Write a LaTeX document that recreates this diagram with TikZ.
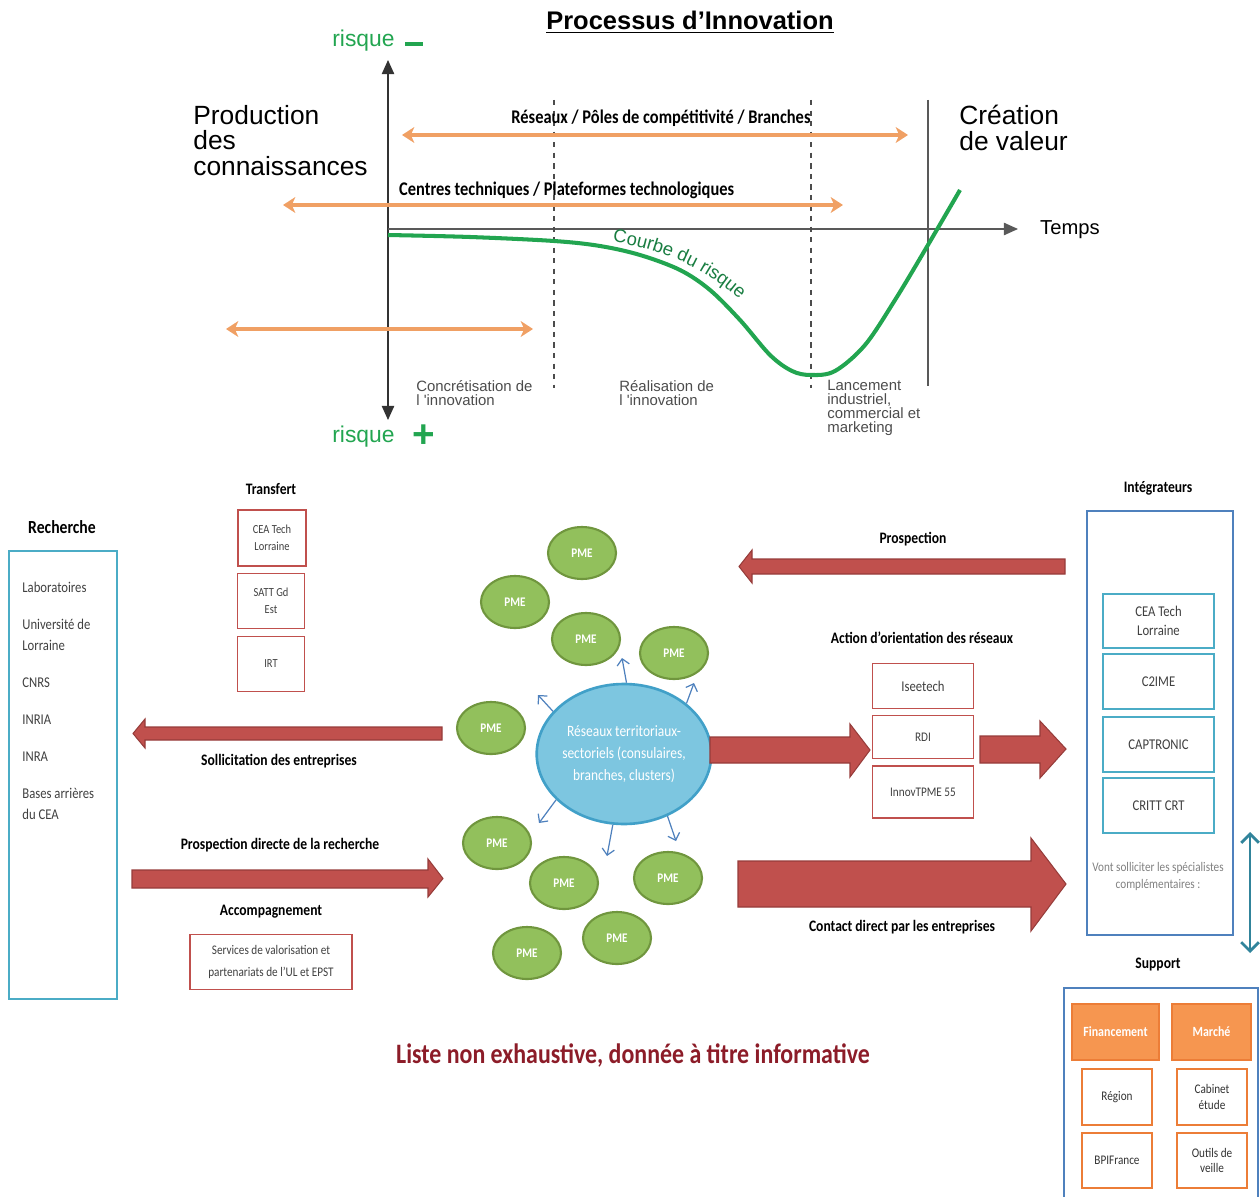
\documentclass[tikz,border=0pt]{standalone}
\usepackage{fontspec}
\setmainfont{Carlito}[FakeStretch=0.85]
\newfontfamily\arialfont{Liberation Sans}
\usetikzlibrary{arrows.meta,shapes.geometric,decorations.text}

\definecolor{riskgreen}{RGB}{34,165,80}
\definecolor{riskdark}{RGB}{25,125,65}
\definecolor{spanorange}{RGB}{240,160,100}
\definecolor{boxred}{RGB}{192,80,77}
\definecolor{arrowedge}{RGB}{150,60,58}
\definecolor{rescyan}{RGB}{75,172,198}
\definecolor{frameblue}{RGB}{79,129,189}
\definecolor{netfill}{RGB}{125,198,224}
\definecolor{netedge}{RGB}{65,160,200}
\definecolor{pmefill}{RGB}{146,192,92}
\definecolor{pmeedge}{RGB}{112,150,62}
\definecolor{supfill}{RGB}{246,150,80}
\definecolor{supedge}{RGB}{236,125,55}
\definecolor{linkteal}{RGB}{49,132,155}
\definecolor{notered}{RGB}{140,28,40}

\begin{document}
\begin{tikzpicture}[x=0.02cm,y=-0.02cm,
	axisline/.style={draw=black!65,line width=0.8pt},
	phase/.style={draw=black!70,line width=1pt,dash pattern=on 3pt off 3pt},
	spanarrow/.style={draw=spanorange,line width=1.8pt,{Stealth[length=7pt,width=9pt,inset=2pt]}-{Stealth[length=7pt,width=9pt,inset=2pt]}},
	spanlabel/.style={font=\bfseries\fontsize{11}{12}\selectfont},
	bigtext/.style={anchor=north west,align=left,inner sep=0pt,font=\arialfont\fontsize{15}{14.5}\selectfont},
	topgray/.style={anchor=north west,align=left,inner sep=0pt,text=black!70,font=\arialfont\fontsize{8.5}{8}\selectfont},
	risklabel/.style={anchor=base west,inner sep=0pt,text=riskgreen,font=\arialfont\fontsize{13}{14}\selectfont},
	head/.style={font=\bfseries\fontsize{9.1}{11}\selectfont},
	redbox/.style={draw=boxred,line width=1.1pt,fill=white,align=center,inner sep=1pt,text=black!75},
	cyanbox/.style={draw=rescyan,line width=1.5pt,fill=white,align=center,inner sep=1pt,text=black!75,minimum width=22.2mm,minimum height=11mm,font=\fontsize{8.5}{11}\selectfont},
	frame/.style={draw=frameblue,line width=1.3pt},
	supbox/.style={draw=supedge,line width=1.3pt,fill=white,align=center,inner sep=1pt,minimum height=11.2mm,minimum width=14mm,text=black!80,font=\fontsize{7.5}{9}\selectfont},
	suphead/.style={supbox,fill=supfill,text=white,font=\bfseries\fontsize{8}{9}\selectfont},
	pme/.style={ellipse,draw=pmeedge,line width=1.2pt,fill=pmefill,minimum width=13.6mm,minimum height=10.4mm,inner sep=0pt,text=white,font=\bfseries\fontsize{7.5}{9}\selectfont},
	bigarrow/.style={fill=boxred,draw=arrowedge,line width=0.6pt},
	spread/.style={draw=frameblue,line width=0.7pt,-{Straight Barb[length=3.5pt,width=7pt]}},
	linkarrow/.style={draw=linkteal,line width=1.6pt,{Straight Barb[length=5pt,width=10pt]}-{Straight Barb[length=5pt,width=10pt]}}]
	\useasboundingbox (0,0) rectangle (1260,1196);

	%title
	\node[font=\arialfont\bfseries\fontsize{14.5}{16}\selectfont] (title) at (690,22) {\underline{Processus d’Innovation}};

	%axes
	\coordinate (O) at (388,229);
	\coordinate (yTop) at (388,60);
	\coordinate (yBot) at (388,420);
	\coordinate (xEnd) at (1018,229);
	\draw[axisline,draw=black!80,{Triangle[length=8pt,width=7pt]}-{Triangle[length=8pt,width=7pt]}] (yTop) -- (yBot);
	\draw[axisline,-{Triangle[length=8pt,width=7pt]}] (O) -- (xEnd);
	\node[risklabel] (riskTop) at (332,47) {risque\hspace{6pt}\rule[0.3pt]{10pt}{2.3pt}};
	\node[risklabel] (riskBot) at (332,442) {risque\hspace{10pt}\raisebox{-3pt}{\fontsize{22}{22}\selectfont\bfseries +}};
	\node[anchor=west,font=\arialfont\fontsize{11.5}{13}\selectfont] (temps) at (1034,230) {Temps};

	%phases
	\draw[phase] (554,100) -- (554,388);
	\draw[phase] (811,100) -- (811,388);
	\draw[draw=black!65,line width=1.2pt] (928,100) -- (928,386);

	\node[bigtext] (prod) at (193,105) {Production\\des\\connaissances};
	\node[bigtext] (valeur) at (959,105) {Création\\de valeur};

	%orange spans
	\coordinate (resL) at (402,135);
	\coordinate (resR) at (908,135);
	\coordinate (ctL) at (283,205);
	\coordinate (ctR) at (843,205);
	\coordinate (lowL) at (226,329);
	\coordinate (lowR) at (533,329);
	\draw[spanarrow] (resL) -- (resR);
	\draw[spanarrow] (ctL) -- (ctR);
	\draw[spanarrow] (lowL) -- (lowR);
	\node[spanlabel] (resLabel) at (661,118) {Réseaux / Pôles de compétitivité / Branches};
	\node[spanlabel,anchor=west] (ctLabel) at (393,190) {Centres techniques / Plateformes technologiques};

	%risk curve
	\draw[draw=riskgreen,line width=2.3pt] plot[smooth,tension=0.55] coordinates {(388,235) (470,237) (554,241) (600,246) (640,255) (680,270) (710,290) (740,320) (770,355) (792,371) (811,375) (835,371) (865,345) (895,300) (925,250) (960,190)};
	\path[decorate,decoration={text along path,text align=center,text={|\arialfont\fontsize{10.5}{12}\selectfont\color{riskdark}|Courbe du risque}}] (612,242) .. controls (660,248) and (705,268) .. (740,300);

	\node[topgray] (phase1) at (416,380) {Concrétisation de\\l 'innovation};
	\node[topgray] (phase2) at (619,380) {Réalisation de\\l 'innovation};
	\node[topgray] (phase3) at (827,380) {Lancement\\industriel,\\commercial et\\marketing};

	%recherche
	\node[head,font=\bfseries\fontsize{10.5}{12}\selectfont] (rechHead) at (62,527) {Recherche};
	\draw[draw=rescyan,line width=1.5pt] (9,551) rectangle (117,999);
	\node[anchor=north west,align=left,inner sep=0pt,text=black!75,font=\fontsize{8.5}{12}\selectfont] (rechList) at (22,582) {Laboratoires\\[9pt]Université de\\Lorraine\\[9pt]CNRS\\[9pt]INRIA\\[9pt]INRA\\[9pt]Bases arrières\\du CEA};

	%transfert
	\node[head] (transHead) at (271,489) {Transfert};
	\node[redbox,minimum width=13.6mm,minimum height=11.2mm,font=\fontsize{7}{9.5}\selectfont] (ceaT) at (272,538) {CEA Tech\\Lorraine};
	\node[redbox,minimum width=13.4mm,minimum height=11mm,font=\fontsize{7}{9.5}\selectfont] (satt) at (271,601) {SATT Gd\\Est};
	\node[redbox,minimum width=13.4mm,minimum height=11mm,font=\fontsize{7}{9.5}\selectfont] (irt) at (271,664) {IRT};

	%left arrows
	\filldraw[bigarrow] (442,727) -- (145,727) -- (145,719) -- (133,733.5) -- (145,748) -- (145,740) -- (442,740) -- cycle;
	\node[head] (sollLabel) at (279,761) {Sollicitation des entreprises};
	\node[head] (prosLabel) at (280,845) {Prospection directe de la recherche};
	\filldraw[bigarrow] (132,870) -- (428,870) -- (428,859) -- (443,878.5) -- (428,897) -- (428,888) -- (132,888) -- cycle;
	\node[head] (accLabel) at (271,912) {Accompagnement};
	\node[redbox,minimum width=32.4mm,minimum height=11mm,font=\fontsize{7.5}{12}\selectfont] (valo) at (271,962) {Services de valorisation et\\partenariats de l’UL et EPST};

	%network and PME
	\node[ellipse,draw=netedge,line width=1.5pt,fill=netfill,minimum width=33.6mm,minimum height=28mm,inner sep=0pt,align=center,text=white,font=\fontsize{9}{12.5}\selectfont] (reseau) at (624,754) {Réseaux territoriaux-\\sectoriels (consulaires,\\branches, clusters)};
	\node[pme] (pme1) at (582,553) {PME};
	\node[pme] (pme2) at (515,602) {PME};
	\node[pme] (pme3) at (586,639) {PME};
	\node[pme] (pme4) at (674,653) {PME};
	\node[pme] (pme5) at (491,728) {PME};
	\node[pme] (pme6) at (497,843) {PME};
	\node[pme] (pme7) at (564,883) {PME};
	\node[pme] (pme8) at (668,878) {PME};
	\node[pme] (pme9) at (617,938) {PME};
	\node[pme] (pme10) at (527,953) {PME};

	\coordinate (sp1) at (622,658);
	\coordinate (sp2) at (538,695);
	\coordinate (sp3) at (694,683);
	\coordinate (sp4) at (539,823);
	\coordinate (sp5) at (607,856);
	\coordinate (sp6) at (676,841);
	\draw[spread] (reseau.88) -- (sp1);
	\draw[spread] (reseau.149) -- (sp2);
	\draw[spread] (reseau.39) -- (sp3);
	\draw[spread] (reseau.214) -- (sp4);
	\draw[spread] (reseau.261) -- (sp5);
	\draw[spread] (reseau.305) -- (sp6);

	%right arrows
	\node[head] (prospLabel) at (913,539) {Prospection};
	\filldraw[bigarrow] (1065,559) -- (752,559) -- (752,550) -- (739,566.5) -- (752,583) -- (752,574) -- (1065,574) -- cycle;
	\node[head] (actLabel) at (922,638) {Action d’orientation des réseaux};
	\filldraw[bigarrow] (710,737) -- (850,737) -- (850,724) -- (870,750) -- (850,777) -- (850,763) -- (710,763) -- cycle;
	\filldraw[bigarrow] (980,736) -- (1040,736) -- (1040,721) -- (1066,749) -- (1040,778) -- (1040,763) -- (980,763) -- cycle;
	\node[redbox,minimum width=20.2mm,minimum height=9mm,font=\fontsize{8.5}{10}\selectfont] (isee) at (923,686) {Iseetech};
	\node[redbox,minimum width=20.2mm,minimum height=8.6mm,font=\fontsize{7.5}{9}\selectfont] (rdi) at (923,737) {RDI};
	\node[redbox,minimum width=20.2mm,minimum height=10.4mm,font=\fontsize{7.5}{9}\selectfont] (innov) at (923,792) {InnovTPME 55};
	\filldraw[bigarrow] (738,861) -- (1031,861) -- (1031,838) -- (1066,884) -- (1031,931) -- (1031,907) -- (738,907) -- cycle;
	\node[head] (contLabel) at (902,927) {Contact direct par les entreprises};

	%integrateurs
	\node[head] (integHead) at (1158,488) {Intégrateurs};
	\draw[frame] (1087,511) rectangle (1233,935);
	\node[cyanbox,minimum height=10.8mm] (ceaI) at (1158.5,621) {CEA Tech\\Lorraine};
	\node[cyanbox] (c2ime) at (1158.5,681.5) {C2IME};
	\node[cyanbox] (captronic) at (1158.5,744.5) {CAPTRONIC};
	\node[cyanbox] (critt) at (1158.5,805.5) {CRITT CRT};
	\node[align=center,text=black!50,font=\fontsize{7.5}{9.7}\selectfont] (vont) at (1158,876) {Vont solliciter les spécialistes\\complémentaires :};
	\coordinate (supTop) at (1250,832);
	\coordinate (supBot) at (1250,953);
	\draw[linkarrow] (supTop) -- (supBot);

	%support
	\node[head] (supHead) at (1158,965) {Support};
	\draw[frame] (1064,988) rectangle (1258,1210);
	\node[suphead,minimum width=17.4mm] (fin) at (1115.5,1032) {Financement};
	\node[suphead,minimum width=15.8mm] (marche) at (1211.5,1032) {Marché};
	\node[supbox] (region) at (1117,1097) {Région};
	\node[supbox] (cabinet) at (1212,1097) {Cabinet\\étude};
	\node[supbox,minimum height=11mm] (bpi) at (1117,1160.5) {BPIFrance};
	\node[supbox,minimum height=11mm] (outils) at (1212,1160.5) {Outils de\\veille};

	\node[text=notered,font=\bfseries\fontsize{16}{18}\selectfont] (note) at (633,1056) {Liste non exhaustive, donnée à titre informative};
\end{tikzpicture}
\end{document}
